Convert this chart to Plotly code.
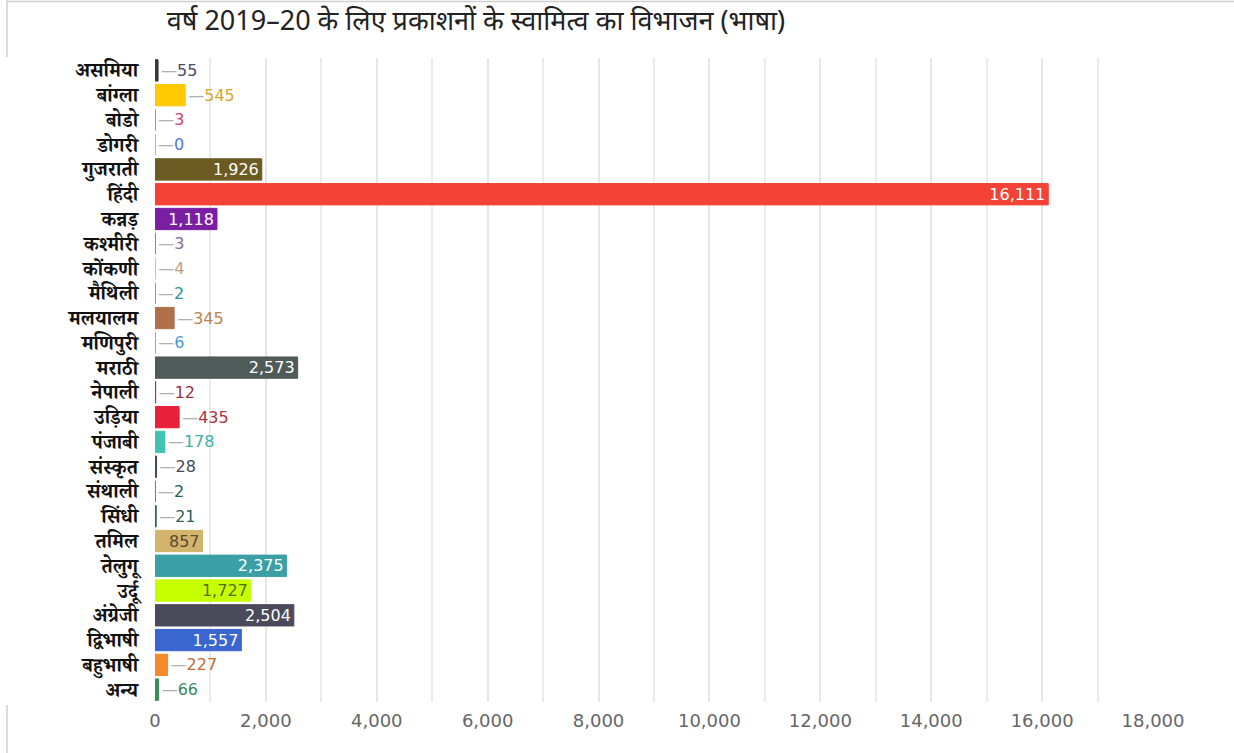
import plotly.graph_objects as go

languages = ["असमिया", "बांग्ला", "बोडो", "डोगरी", "गुजराती", "हिंदी", "कन्नड़", "कश्मीरी",
             "कोंकणी", "मैथिली", "मलयालम", "मणिपुरी", "मराठी", "नेपाली", "उड़िया", "पंजाबी",
             "संस्कृत", "संथाली", "सिंधी", "तमिल", "तेलुगू", "उर्दू", "अंग्रेजी", "द्विभाषी",
             "बहुभाषी", "अन्य"]
publications = [55, 545, 3, 0, 1926, 16111, 1118, 3, 4, 2, 345, 6, 2573, 12, 435, 178,
                28, 2, 21, 857, 2375, 1727, 2504, 1557, 227, 66]
bar_colors = ["#3a3a3a", "#ffc800", "#e0607e", "#7a9ee0", "#6b5a22", "#f44336", "#7b1fa2",
              "#8a6a9a", "#d2b48c", "#3aa3aa", "#b0704a", "#6aaee0", "#4f5b58", "#9b3040",
              "#e8203a", "#40c4b0", "#444a55", "#2a7a70", "#2f5f5a", "#d2b46c", "#3aa0a5",
              "#c6ff00", "#4a4a5a", "#3a66d0", "#f5892a", "#3a8a5a"]
label_colors = ["#4a4a6a", "#d4a82a", "#d04070", "#4a7be0", "#ffffff", "#ffffff", "#ffffff",
                "#8a6a9a", "#c0a080", "#2f8f96", "#c08050", "#4a9ad8", "#ffffff", "#9b3040",
                "#b03040", "#40b0a8", "#444a55", "#2a5a60", "#2f5f5a", "#5a4a30", "#ffffff",
                "#5a6a10", "#ffffff", "#ffffff", "#c06a30", "#3a8a5a"]
title_text = "वर्ष 2019–20 के लिए प्रकाशनों के स्वामित्व का विभाजन (भाषा)"
x_ticks = list(range(0, 18001, 2000))

W, H = 1234, 753
L, R, T, B = 155, 1153, 58, 702

threshold = 800
positions = ["inside" if v > threshold else "outside" for v in publications]
texts = [f"{v:,}" if v > threshold else f"<span style='color:#b0b0b0'>—</span>{v:,}"
         for v in publications]

num_font = "DejaVu Sans, Liberation Sans, Arial"
fig = go.Figure(go.Bar(
    y=languages, x=publications, orientation="h",
    marker=dict(color=bar_colors, line=dict(color=bar_colors, width=1)),
    text=texts, textposition=positions, insidetextanchor="end", constraintext="none",
    textfont=dict(family=num_font, size=16, color=label_colors),
    outsidetextfont=dict(family=num_font, size=16, color=label_colors),
    insidetextfont=dict(family=num_font, size=16, color=label_colors),
    cliponaxis=False, hoverinfo="x+y",
))

def px_x(p):
    return (p - L) / (R - L)

def px_y(p):
    return 1 - (p - T) / (B - T)

shape_style = dict(type="line", xref="paper", yref="paper", line=dict(color="#cfcfcf", width=1.5))
fig.add_shape(x0=px_x(7), x1=px_x(1234), y0=px_y(1.5), y1=px_y(1.5), **shape_style)
fig.add_shape(x0=px_x(7), x1=px_x(7), y0=px_y(0), y1=px_y(57), **shape_style)
fig.add_shape(x0=px_x(7), x1=px_x(7), y0=px_y(705), y1=px_y(753), **shape_style)

fig.update_layout(
    width=W, height=H,
    margin=dict(l=L, r=W - R, t=T, b=H - B),
    plot_bgcolor="white", paper_bgcolor="white",
    bargap=0.14,
    showlegend=False,
    uniformtext=dict(mode=False),
    title=dict(text=title_text, x=(147 + 805) / 2 / W, xanchor="center",
               y=1 - 21 / H, yanchor="middle",
               font=dict(family="Noto Sans, sans-serif", size=27, color="#222222")),
)
fig.update_xaxes(
    range=[0, 18000], tickvals=x_ticks, tickformat=",",
    showgrid=True, gridcolor="#e6e6e6", gridwidth=1.5,
    minor=dict(dtick=1000, showgrid=True, gridcolor="#ececec", gridwidth=1.5),
    zeroline=False, showline=False, ticks="",
    tickfont=dict(family=num_font, size=18, color="#666666"),
    ticklabelstandoff=6,
)
fig.update_yaxes(
    autorange="reversed", showgrid=False, zeroline=False, showline=False, ticks="",
    tickmode="array", tickvals=languages, ticktext=languages,
    tickfont=dict(family="Noto Serif Devanagari, Noto Serif, serif", size=20, color="#111111",
                  weight="bold"),
    ticklabelstandoff=16,
)

fig.write_html("out.html", post_script="document.body.style.margin='0px';",
               config={"displayModeBar": False})
